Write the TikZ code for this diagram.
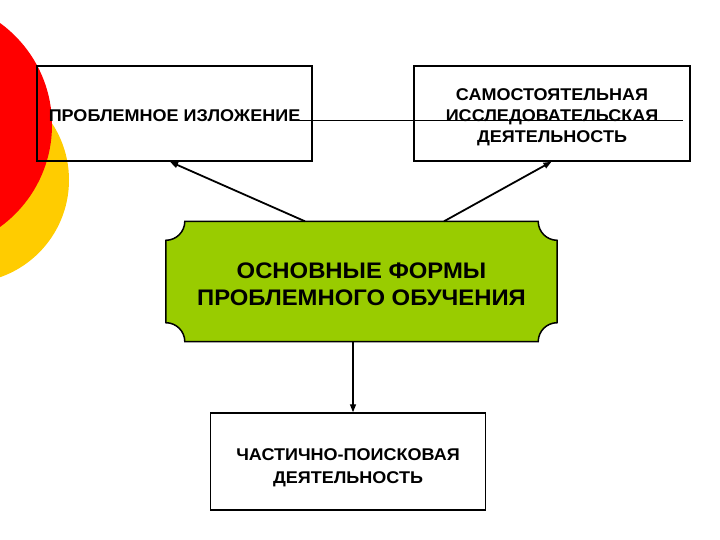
\documentclass[tikz,border=0pt]{standalone}
\usepackage{fontspec}
\setmainfont{Liberation Sans}
\newfontfamily\widesans[FakeStretch=1.06]{Liberation Sans}
\usetikzlibrary{positioning, arrows.meta, calc, backgrounds}
\definecolor{formgreen}{HTML}{99CC00}
\definecolor{dotred}{HTML}{FF0000}
\definecolor{dotyellow}{HTML}{FFCC00}
\tikzset{
  box/.style={draw, line width=1.5pt, minimum width=275pt, minimum height=95pt,
    inner sep=0pt, align=center, font=\widesans\fontsize{17}{21}\selectfont\bfseries},
  core/.style={minimum width=391pt, minimum height=120pt, inner sep=0pt,
    align=center, font=\widesans\fontsize{22.5}{27}\selectfont\bfseries},
  plaque/.style={draw, line width=1.5pt, fill=formgreen},
  link/.style={line width=1.8pt, -{Triangle[length=8pt,width=6pt]}},
}
\begin{document}
\begin{tikzpicture}[x=1pt, y=-1pt]
\def\r{19}
\useasboundingbox (0,0) rectangle (720,540);
\begin{scope}
\clip (0,0) rectangle (720,540);
\fill[dotyellow] (-34,180) circle[radius=103];
\fill[dotred] (-74,125) circle[radius=126];
\end{scope}
\node[box, text height=16.4pt] (left) at (174.5,113.5) {ПРОБЛЕМНОЕ ИЗЛОЖЕНИЕ};
\node[box, minimum width=276pt, text height=60.4pt] (right) at (552,113.5)
  {САМОСТОЯТЕЛЬНАЯ\\ ИССЛЕДОВАТЕЛЬСКАЯ\\ ДЕЯТЕЛЬНОСТЬ};
\node[core, text height=48.4pt] (main) at (361.5,281.5) {ОСНОВНЫЕ ФОРМЫ\\ ПРОБЛЕМНОГО ОБУЧЕНИЯ};
\node[box, minimum height=97pt, text height=47.4pt,
  font=\widesans\fontsize{17}{23}\selectfont\bfseries]
  (low) at (348,461.5) {ЧАСТИЧНО-ПОИСКОВАЯ\\ ДЕЯТЕЛЬНОСТЬ};
\begin{scope}[on background layer]
\draw[plaque] ($(main.north west)+(0,\r)$) arc[start angle=90, end angle=0, radius=\r]
  -- ($(main.north east)+(-\r,0)$) arc[start angle=180, end angle=90, radius=\r]
  -- ($(main.south east)+(0,-\r)$) arc[start angle=270, end angle=180, radius=\r]
  -- ($(main.south west)+(\r,0)$) arc[start angle=0, end angle=-90, radius=\r]
  -- cycle;
\end{scope}
\coordinate (rule-a) at (298,120);
\coordinate (rule-b) at (683,120);
\draw[line width=0.8pt] (rule-a) -- (rule-b);
\draw[link] ($(main.north)+(-56.5,0)$) -- ($(left.south)+(-4.5,0)$);
\draw[link] ($(main.north)+(82.5,0)$) -- ($(right.south)+(-0.5,0)$);
\draw[link, line width=1.4pt] ($(main.south)+(-8.5,0)$) -- ($(low.north)+(5,0)$);
\end{tikzpicture}
\end{document}
